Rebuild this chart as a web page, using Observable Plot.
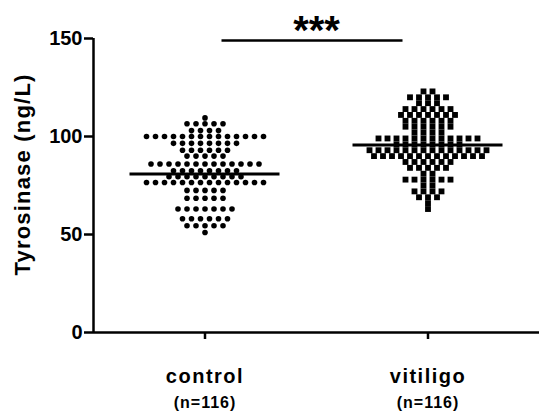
<!DOCTYPE html>
<html>
<head>
<meta charset="utf-8">
<script src="https://cdn.jsdelivr.net/npm/d3@7"></script>
<script src="https://cdn.jsdelivr.net/npm/@observablehq/plot@0.6"></script>
<style>
  html, body { margin: 0; padding: 0; background: #fff; }
  #chart { width: 539px; height: 416px; }
</style>
</head>
<body>
<div id="chart"></div>
<script>
// ---- data ----
const groups = ["control", "vitiligo"];
const groupN = [116, 116];
const yTicks = [0, 50, 100, 150];
const yLabel = "Tyrosinase (ng/L)";
const meanValues = [80.9, 95.6];
const sigLabel = "***";
const sigY = 149;

// control (circles), 116 values
const controlValues = [
  109.5,
  106.5, 106.5, 106.5, 106.5, 106.5,
  103, 103, 103, 103,
  100, 100, 100, 100, 100, 100, 100, 100, 100, 100, 100, 100, 100, 100,
  96.5, 96.5, 96.5, 96.5, 96.5, 96.5, 96.5, 96.5,
  93, 93, 93, 93, 93, 93,
  90, 90, 90, 90, 90,
  86, 86, 86, 86, 86, 86, 86, 86, 86, 86, 86, 86, 86,
  82.5, 82.5, 82.5, 82.5, 82.5, 82.5, 82.5, 82.5,
  79.5, 79.5, 79.5, 79.5, 79.5, 79.5, 79.5, 79.5, 79.5,
  76.5, 76.5, 76.5, 76.5, 76.5, 76.5, 76.5, 76.5, 76.5, 76.5, 76.5, 76.5, 76.5, 76.5,
  72.5, 72.5, 72.5, 72.5, 72.5,
  68.5, 68.5, 68.5, 68.5, 68.5,
  63, 63, 63, 63, 63, 63, 63,
  58, 58, 58, 58, 58, 58,
  54.5, 54.5, 54.5, 54.5, 54.5,
  51
];

// vitiligo (squares), 116 values
const vitiligoValues = [
  123, 123,
  120, 120, 120, 120, 120,
  117, 117, 117,
  114, 114, 114, 114, 114, 114,
  111, 111, 111, 111, 111, 111, 111,
  108, 108, 108, 108, 108, 108,
  105, 105, 105, 105, 105, 105,
  102, 102, 102, 102,
  99, 99, 99, 99, 99, 99, 99, 99, 99, 99, 99, 99,
  96, 96, 96, 96, 96, 96, 96, 96,
  93, 93, 93, 93, 93, 93, 93, 93, 93, 93, 93, 93, 93, 93,
  90, 90, 90, 90, 90, 90, 90, 90, 90, 90, 90, 90, 90,
  87, 87, 87, 87, 87, 87,
  84, 84, 84, 84, 84,
  81, 81,
  78, 78, 78, 78, 78, 78,
  75, 75,
  72, 72, 72, 72,
  69, 69, 69,
  66,
  63
];

// ---- layout ----
const W = 539, H = 416;
const mL = 93, mR = 0, mT = 38, mB = 84;
const unitPx = (W - mL - mR) / groups.length;   // pixels per group band
const slot = 9 / unitPx;                          // horizontal spacing between points in a row
const centers = groups.map((g, i) => i + 0.5);

// Prism-style scatter: points with the same value sit side by side in a centred row
function arrange(values, group, gi) {
  const out = [];
  for (const [v, arr] of d3.group(values, v => v)) {
    const n = arr.length;
    arr.forEach((_, k) => out.push({group, value: v, x: centers[gi] + (k - (n - 1) / 2) * slot}));
  }
  return out;
}
const controlData = arrange(controlValues, groups[0], 0);
const vitiligoData = arrange(vitiligoValues, groups[1], 1);

const meanData = groups.map((g, i) => ({group: g, mean: meanValues[i], center: centers[i]}));
const halfMean = 75 / unitPx;
const sig = [{y: sigY, label: sigLabel,
  x1: centers[0] + 17 / unitPx, x2: centers[1] - 25 / unitPx, xm: (centers[0] + centers[1]) / 2}];

const chart = Plot.plot({
  width: W, height: H,
  marginLeft: mL, marginRight: mR, marginTop: mT, marginBottom: mB,
  x: {domain: [0, groups.length]},
  y: {domain: [0, 150]},
  style: {fontFamily: "'Liberation Sans', Arial, sans-serif", background: "#fff", color: "#000", overflow: "visible"},
  marks: [
    Plot.axisY(yTicks, {tickSize: 9, tickPadding: 2, fontSize: 20, fontWeight: "bold", strokeWidth: 2.5, label: null}),
    Plot.axisX(centers, {tickSize: 7, tickFormat: () => "", strokeWidth: 2.5, label: null}),
    Plot.ruleX([0], {y1: 0, y2: 150, strokeWidth: 2.5}),
    Plot.ruleY([0], {strokeWidth: 2.5}),
    Plot.dot(controlData, {x: "x", y: "value", r: 2.8, fill: "#000", symbol: "circle"}),
    Plot.dot(vitiligoData, {x: "x", y: "value", r: 3.3, fill: "#000", symbol: "square"}),
    Plot.ruleY(meanData, {x1: d => d.center - halfMean, x2: d => d.center + halfMean, y: "mean", strokeWidth: 3}),
    Plot.ruleY(sig, {x1: "x1", x2: "x2", y: "y", strokeWidth: 2.5}),
    Plot.text(sig, {x: "xm", y: "y", text: "label", lineAnchor: "bottom", dy: 4, fontSize: 40, fontWeight: "bold"}),
    Plot.text(groups, {x: (d, i) => centers[i], text: d => d, frameAnchor: "bottom", lineAnchor: "bottom", dy: 50, fontSize: 20, fontWeight: "bold", textAnchor: "middle"}),
    Plot.text(groupN, {x: (d, i) => centers[i], text: d => `(n=${d})`, frameAnchor: "bottom", lineAnchor: "bottom", dy: 75, fontSize: 16, fontWeight: "bold", textAnchor: "middle"}),
    Plot.text([yLabel], {frameAnchor: "left", rotate: -90, textAnchor: "middle", lineAnchor: "middle", dx: -71, dy: -11, fontSize: 22, fontWeight: "bold"})
  ]
});
document.getElementById("chart").appendChild(chart);

// letter spacing to mimic the wider original lettering
d3.select(chart).selectAll("text").each(function () {
  const t = this.textContent;
  if (groups.includes(t)) this.setAttribute("letter-spacing", "1.5");
  else if (t === yLabel) this.setAttribute("letter-spacing", "1.2");
  else if (t.startsWith("(n=")) this.setAttribute("letter-spacing", "1");
});
</script>
</body>
</html>
